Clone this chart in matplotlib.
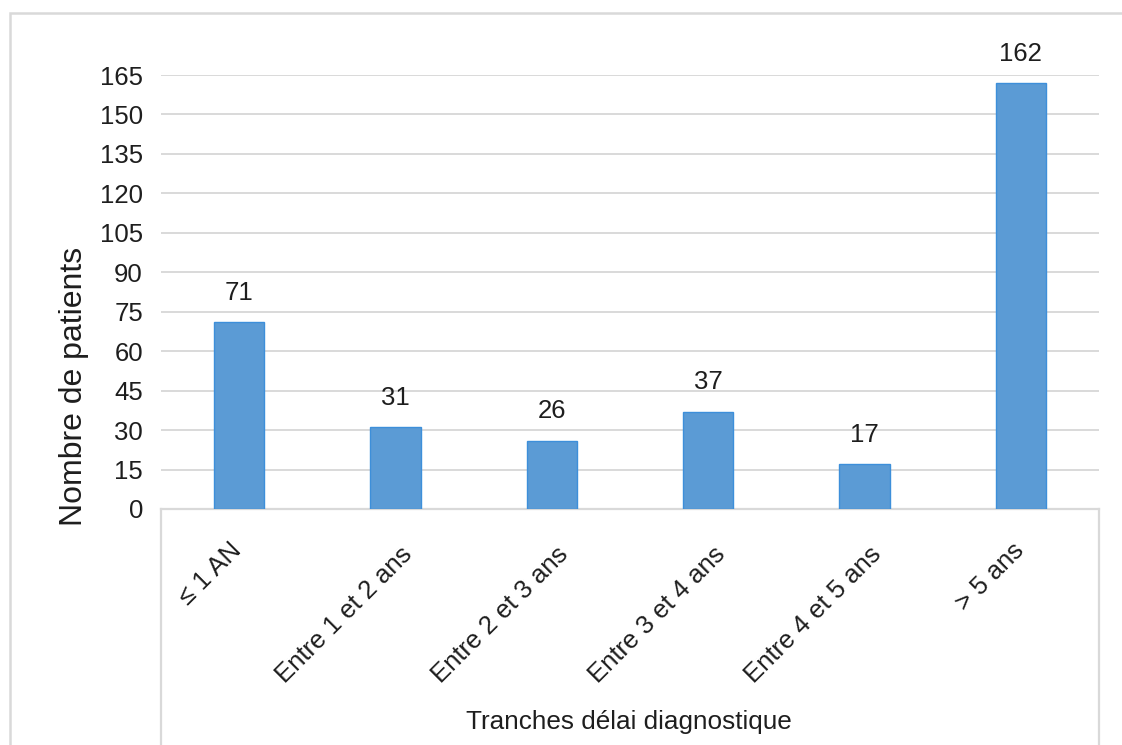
import matplotlib
matplotlib.use("Agg")
import matplotlib.pyplot as plt
from matplotlib.lines import Line2D
from matplotlib.patches import Rectangle
import matplotlib.transforms as mtransforms

plt.rcParams['font.family'] = ['Liberation Sans', 'DejaVu Sans']

categories = ["≤ 1 AN", "Entre 1 et 2 ans", "Entre 2 et 3 ans",
              "Entre 3 et 4 ans", "Entre 4 et 5 ans", "> 5 ans"]
patients = [71, 31, 26, 37, 17, 162]
y_ticks = list(range(0, 166, 15))

W, H = 1122, 745
fig = plt.figure(figsize=(W / 100, H / 100), dpi=100)
fig.patch.set_facecolor('white')

ax_left, ax_right, ax_top, ax_bottom = 161, 1099, 75, 509
ax = fig.add_axes([ax_left / W, 1 - ax_bottom / H,
                   (ax_right - ax_left) / W, (ax_bottom - ax_top) / H])

grid_col = '#D9D9D9'
text_col = '#1E1E1E'
bar_col = '#5B9BD5'
edge_col = '#3D8FDA'
fs = 18.5

x = list(range(len(categories)))
bars = ax.bar(x, patients, width=0.32, color=bar_col, edgecolor=edge_col,
              linewidth=1.0, zorder=3)

ax.set_xlim(-0.5, len(categories) - 0.5)
ax.set_ylim(0, 165)
ax.set_yticks(y_ticks)
ax.set_yticklabels([str(v) for v in y_ticks], fontsize=fs, color=text_col)
ax.yaxis.grid(True, color=grid_col, linewidth=1.4, zorder=0)
ax.set_axisbelow(True)
ax.tick_params(axis='y', length=0, pad=13)
ax.tick_params(axis='x', length=0, pad=0)

for side in ('top', 'left', 'right'):
    ax.spines[side].set_visible(False)
ax.spines['bottom'].set_color(grid_col)
ax.spines['bottom'].set_linewidth(1.6)

ax.set_xticks(x)
ax.set_xticklabels(categories, rotation=45, ha='right', va='center',
                   rotation_mode='anchor', fontsize=fs, color=text_col)

for b, v in zip(bars, patients):
    ax.annotate(str(v), (b.get_x() + b.get_width() / 2, v),
                xytext=(0, 16), textcoords='offset points',
                ha='center', va='baseline', fontsize=fs, color=text_col)

# place the slanted category labels: right end just right of the bar centre,
# longer labels sitting a little further right and lower
fig.canvas.draw()
renderer = fig.canvas.get_renderer()
for i, lbl in enumerate(ax.get_xticklabels()):
    bb = lbl.get_window_extent(renderer)
    w = bb.width
    cx = ax.transData.transform((i, 0))[0]
    want_x1 = cx + 0.192 * w - 6.5
    want_top = H - (538 + (w - 65) * 0.05)
    dx = want_x1 - bb.x1
    dy = want_top - bb.y1
    lbl.set_transform(lbl.get_transform() +
                      mtransforms.ScaledTranslation(dx / 100, dy / 100,
                                                    fig.dpi_scale_trans))

# frame of the category area and of the chart
for xp in (ax_left, ax_right):
    fig.add_artist(Line2D([xp / W, xp / W], [0, 1 - ax_bottom / H],
                          color=grid_col, linewidth=1.6))
fig.add_artist(Rectangle((10 / W, -0.05), 1.2, 1 - 13 / H + 0.05,
                         fill=False, edgecolor=grid_col, linewidth=1.8,
                         transform=fig.transFigure))

fig.text(74 / W, 1 - 386 / H, "Nombre de patients", rotation=90,
         ha='center', va='center', fontsize=23, color=text_col)
fig.text(629 / W, 1 - 722 / H, "Tranches délai diagnostique",
         ha='center', va='center', fontsize=18.8, color=text_col)

fig.savefig('out.png', dpi=100)
